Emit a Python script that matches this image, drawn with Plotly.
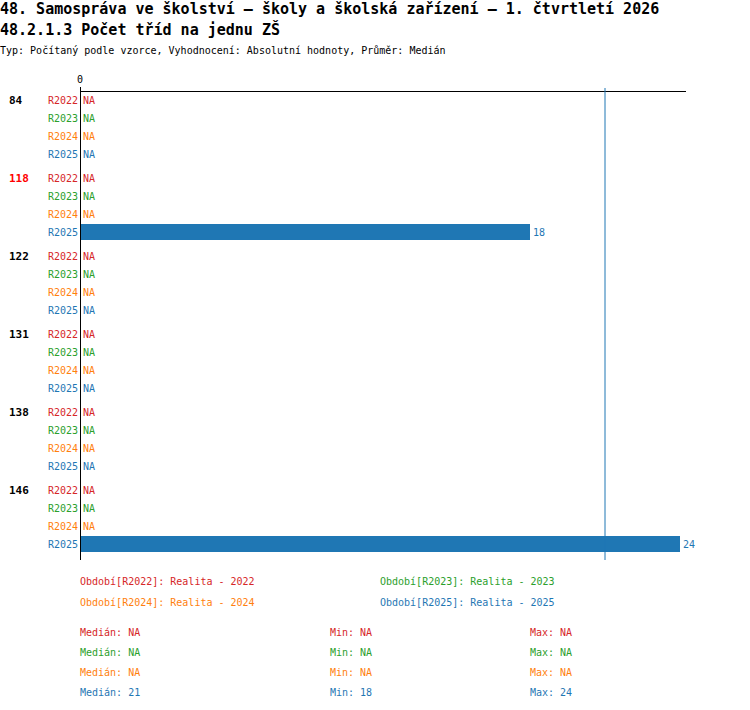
import numpy as np
import plotly.graph_objects as go

# ─── Data ─────────────────────────────────────────────────────────────────────
GROUPS = ["84", "118", "122", "131", "138", "146"]
HIGHLIGHT = "118"
PERIODS = ["R2022", "R2023", "R2024", "R2025"]
PERIOD_NAMES = ["Realita - 2022", "Realita - 2023", "Realita - 2024", "Realita - 2025"]
COLORS = ["#d62728", "#2ca02c", "#ff7f0e", "#1f77b4"]

R2022 = [None, None, None, None, None, None]
R2023 = [None, None, None, None, None, None]
R2024 = [None, None, None, None, None, None]
R2025 = [None, 18, None, None, None, 24]
VALUES = [R2022, R2023, R2024, R2025]

TITLE = "48. Samospráva ve školství – školy a školská zařízení – 1. čtvrtletí 2026"
SUBTITLE = "48.2.1.3 Počet tříd na jednu ZŠ"
TYPE_LINE = "Typ: Počítaný podle vzorce, Vyhodnocení: Absolutní hodnoty, Průměr: Medián"

FONT = "DejaVu Sans Mono"

# ─── Geometry (pixels of the 750x710 page) ────────────────────────────────────
W, H = 750, 710
L, R, T, B = 80, 686, 92, 560
ROW = 18
GROUP_GAP = 6


def px(x):
    return (x - L) / (R - L)


def py(y):
    return (B - y) / (B - T)


def row_pos(g, r):
    # row centre in "row units", groups separated by a small gap
    return (g * (len(PERIODS) * ROW + GROUP_GAP) + r * ROW) / ROW


fig = go.Figure()
annotations = []

all_vals = [v for series in VALUES for v in series if v is not None]
x_max = max(all_vals) * (R - L) / (R - L - 6)

for r, (period, series, color) in enumerate(zip(PERIODS, VALUES, COLORS)):
    ys = [row_pos(g, r) for g in range(len(GROUPS))]
    fig.add_trace(go.Bar(
        x=[v if v is not None else 0 for v in series],
        y=ys,
        orientation="h",
        width=16 / ROW,
        marker=dict(color=color, line=dict(width=0)),
        showlegend=False,
        hoverinfo="skip",
    ))
    for g, v in enumerate(series):
        annotations.append(dict(
            x=0, y=ys[g], xref="x", yref="y", text=period, xanchor="right",
            xshift=0, showarrow=False, font=dict(family=FONT, size=10, color=color),
        ))
        annotations.append(dict(
            x=v if v is not None else 0, y=ys[g], xref="x", yref="y",
            text=str(v) if v is not None else "NA", xanchor="left", xshift=1,
            showarrow=False, font=dict(family=FONT, size=10, color=color),
        ))

# group labels
for g, name in enumerate(GROUPS):
    annotations.append(dict(
        x=px(7), y=row_pos(g, 0), xref="paper", yref="y", text=f"<b>{name}</b>",
        xanchor="left", showarrow=False,
        font=dict(family=FONT, size=11, color="#ff0000" if name == HIGHLIGHT else "black"),
    ))

# titles
for text, y, size in [(f"<b>{TITLE}</b>", 9, 15), (f"<b>{SUBTITLE}</b>", 29, 15),
                      (TYPE_LINE, 50, 10)]:
    annotations.append(dict(
        x=px(-2), y=py(y), xref="paper", yref="paper", text=text, xanchor="left",
        yanchor="middle", showarrow=False, font=dict(family=FONT, size=size, color="black"),
    ))

# period legend
legend_pos = [(78, 581), (378, 581), (78, 602), (378, 602)]
for (x, y), period, name, color in zip(legend_pos, PERIODS, PERIOD_NAMES, COLORS):
    annotations.append(dict(
        x=px(x), y=py(y), xref="paper", yref="paper", text=f"Období[{period}]: {name}",
        xanchor="left", yanchor="middle", showarrow=False,
        font=dict(family=FONT, size=10, color=color),
    ))

# statistics
medians = []
for r, (series, color) in enumerate(zip(VALUES, COLORS)):
    vals = [v for v in series if v is not None]
    if vals:
        med, mn, mx = np.median(vals), min(vals), max(vals)
        stats = [f"{med:g}", f"{mn:g}", f"{mx:g}"]
        medians.append((med, color))
    else:
        stats = ["NA", "NA", "NA"]
    y = 632 + r * 20
    for x, label, s in zip([78, 328, 528], ["Medián", "Min", "Max"], stats):
        annotations.append(dict(
            x=px(x), y=py(y), xref="paper", yref="paper", text=f"{label}: {s}",
            xanchor="left", yanchor="middle", showarrow=False,
            font=dict(family=FONT, size=10, color=color),
        ))

shapes = [dict(type="line", xref="x", yref="paper", x0=0, x1=0, y0=0, y1=py(88),
               line=dict(color="black", width=2))]
for med, color in medians:
    shapes.append(dict(type="line", xref="x", yref="paper", x0=med, x1=med,
                       y0=0, y1=py(88), line=dict(color=color, width=1)))

y_min = row_pos(0, 0) - (100 - T) / ROW
y_max = row_pos(len(GROUPS) - 1, len(PERIODS) - 1) + (B - 544) / ROW

fig.update_layout(
    width=W, height=H,
    margin=dict(l=L, r=W - R, t=T, b=H - B, pad=0),
    paper_bgcolor="white", plot_bgcolor="white",
    barmode="overlay",
    showlegend=False,
    annotations=annotations,
    shapes=shapes,
    xaxis=dict(
        range=[0, x_max], side="top", tickvals=[0], ticktext=["0"],
        showgrid=False, zeroline=False, showline=True, linecolor="black", linewidth=1,
        ticks="outside", ticklen=4, tickcolor="black",
        tickfont=dict(family=FONT, size=10, color="black"), fixedrange=True,
    ),
    yaxis=dict(
        range=[y_max, y_min], showticklabels=False, showgrid=False,
        zeroline=False, showline=False, ticks="", fixedrange=True,
    ),
)

fig.write_html(
    "out.html",
    config={"displayModeBar": False, "staticPlot": True},
    post_script="document.body.style.margin='0';",
)
